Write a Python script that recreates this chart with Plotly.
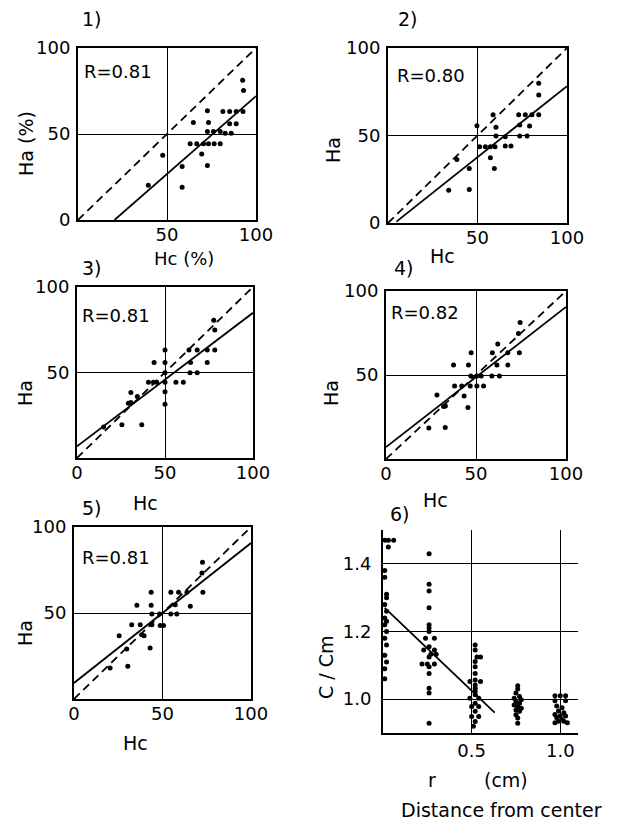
import plotly.graph_objects as go

W, H = 640, 821

# ---------------- data ----------------
p1_hc = [92.5, 93, 72.7, 64.8, 73.3, 81.4, 85.2, 88.9, 92.7, 85.2, 88.9, 72.7, 76.1, 79.9, 82.7, 86.1,
         63, 66.7, 70.5, 73.3, 76.5, 79.9, 47.6, 69.5, 58.5, 72.7, 39.5, 58.5]
p1_ha = [81.2, 75.3, 63.5, 56.7, 56.7, 63.1, 63.1, 63.1, 63.1, 55.9, 55.9, 51.5, 51.5, 51.5, 50.5, 50.5,
         44.3, 44.3, 44.3, 44.3, 44.3, 44.3, 37.7, 38.4, 31.1, 31.7, 20.2, 19.0]
p1_fit_x = [20.5, 100]
p1_fit_y = [0, 72]

p2_hc = [84.2, 84.2, 58.7, 73, 76.7, 80.4, 84.2, 49.7, 60.3, 73.6, 79.1, 60.3, 65.5, 73.6, 77.7,
         51.2, 54.4, 57.2, 59.8, 65.5, 68.7, 57.2, 59.4, 38.5, 45.4, 33.9, 45.4]
p2_ha = [79.9, 73.2, 61.8, 61.8, 61.8, 61.8, 61.8, 55.6, 54.7, 56, 55.4, 49.7, 49.3, 49.7, 49.7,
         43.6, 43.6, 43.6, 43.6, 44, 44, 37.3, 31.2, 36.3, 31.2, 18.7, 19.1]
p2_fit_x = [4.7, 100]
p2_fit_y = [0.8, 78.2]

p3_hc = [77.7, 78.3, 63.6, 68.3, 74, 78.3, 50, 43.8, 50, 64.5, 74, 50, 64.2, 68.3, 40.6, 43.4, 45.3,
         50, 56.2, 60.4, 30.6, 34.3, 29.2, 30.6, 50, 50, 25.5, 36.8, 15.1]
p3_ha = [80.6, 74.8, 63.1, 63.1, 63.1, 63.1, 63.1, 55.9, 55.9, 55.9, 55.9, 49.9, 49.9, 49.9, 44.3, 44.3, 44.3,
         44.3, 44.3, 44.3, 38.3, 35.9, 32, 32.5, 38.8, 31.5, 19.4, 19.4, 18.1]
p3_fit_x = [0, 100]
p3_fit_y = [6.8, 84.9]

p4_hc = [74.5, 73.6, 62.1, 59.1, 67.7, 74.1, 47.3, 37.5, 45.8, 61.6, 67.7, 58.8, 63, 47.1, 50.5, 52.9,
         38.1, 42.1, 46.8, 50.5, 54.2, 28.3, 43.4, 32, 33, 45.5, 23.8, 32.9]
p4_ha = [81.2, 74.7, 68.4, 63.2, 63.2, 63.2, 63.2, 55.9, 55.9, 55.9, 55.9, 49.4, 49.4, 49.4, 49.4, 49.4,
         43.5, 43.5, 43.5, 43.5, 43.5, 38.1, 37.5, 31.2, 31.6, 30.6, 18.4, 18.8]
p4_fit_x = [0, 100]
p4_fit_y = [7.1, 90.5]

p5_hc = [72.6, 72.3, 54.7, 59.1, 63.8, 72.8, 43.6, 35.5, 43.6, 57.2, 65.7, 44, 48.3, 54.7, 58.1,
         32.6, 37.4, 44, 48.7, 50.6, 25.5, 38.3, 39.6, 43, 29.8, 20.4, 30.4]
p5_ha = [79.5, 73.3, 62, 62, 62, 62, 62, 54.5, 54.5, 54.8, 53.9, 49.4, 49.4, 49.4, 49.4,
         43.2, 43.2, 43.2, 42.8, 42.8, 36.8, 37.4, 36.8, 29.7, 29.1, 18, 19]
p5_fit_x = [0, 100]
p5_fit_y = [9.3, 90.7]

diag_x = [0, 100]
diag_y = [0, 100]

p6_r = [0.01, 0.03, 0.06, 0.03, 0.01, 0.01, 0.02, 0.02, 0.01, 0.02, 0.01, 0.02, 0.01, 0.02, 0.01, 0.02, 0.01, 0.02, 0.01, 0.01,
        0.26, 0.26, 0.26, 0.26, 0.26, 0.26, 0.26, 0.24, 0.29, 0.26, 0.23, 0.29, 0.27, 0.30, 0.26, 0.22, 0.25, 0.29, 0.26, 0.26, 0.26, 0.26, 0.26,
        0.52, 0.52, 0.53, 0.55, 0.52, 0.52, 0.52, 0.52, 0.49, 0.55, 0.52, 0.52, 0.52, 0.52, 0.49, 0.54, 0.52, 0.50, 0.54, 0.52, 0.50, 0.54, 0.52, 0.51,
        0.76, 0.76, 0.75, 0.77, 0.74, 0.78, 0.75, 0.77, 0.74, 0.76, 0.78, 0.75, 0.77, 0.75, 0.76, 0.76,
        0.97, 1.00, 1.03, 0.97, 1.03, 0.98, 1.01, 0.99, 1.02, 0.97, 1.00, 1.03, 0.98, 1.01, 0.99, 1.02, 0.97, 1.04]
p6_c = [1.47, 1.47, 1.47, 1.45, 1.38, 1.36, 1.31, 1.30, 1.28, 1.26, 1.24, 1.23, 1.22, 1.20, 1.18, 1.16, 1.13, 1.11, 1.09, 1.06,
        1.43, 1.34, 1.32, 1.27, 1.22, 1.21, 1.20, 1.18, 1.18, 1.155, 1.145, 1.145, 1.133, 1.133, 1.125, 1.104, 1.104, 1.104, 1.096, 1.076, 1.032, 1.018, 0.929,
        1.16, 1.145, 1.125, 1.125, 1.111, 1.096, 1.076, 1.057, 1.052, 1.052, 1.042, 1.032, 1.023, 1.013, 1.003, 1.003, 0.988, 0.978, 0.978, 0.964, 0.949, 0.949, 0.934, 0.92,
        1.04, 1.03, 1.018, 1.008, 1.003, 0.998, 0.993, 0.988, 0.983, 0.978, 0.973, 0.968, 0.964, 0.954, 0.944, 0.929,
        1.01, 1.01, 1.01, 0.995, 0.995, 0.98, 0.975, 0.965, 0.96, 0.955, 0.95, 0.95, 0.945, 0.94, 0.935, 0.935, 0.93, 0.93]
p6_fit_r = [0.01, 0.63]
p6_fit_c = [1.27, 0.96]

r_labels = ["R=0.81", "R=0.80", "R=0.81", "R=0.82", "R=0.81"]
panel_tags = ["1)", "2)", "3)", "4)", "5)", "6)"]

# ---------------- layout helpers ----------------
FONT = "DejaVu Sans"
TICKSIZE = 18

def px_x(v):
    return v / W

def px_y(v):
    return 1 - v / H

# panel boxes in pixels: (left, right, top, bottom)
boxes = [(78, 256, 48, 220), (388, 567, 48, 223), (77, 253, 287, 458),
         (386, 566, 291, 459), (74, 251, 527, 699), (383, 578, 530, 733)]

fig = go.Figure()

scatter_sets = [(p1_hc, p1_ha, p1_fit_x, p1_fit_y), (p2_hc, p2_ha, p2_fit_x, p2_fit_y),
                (p3_hc, p3_ha, p3_fit_x, p3_fit_y), (p4_hc, p4_ha, p4_fit_x, p4_fit_y),
                (p5_hc, p5_ha, p5_fit_x, p5_fit_y)]

layout = dict(width=W, height=H, margin=dict(l=0, r=0, t=0, b=0, pad=0, autoexpand=False),
              paper_bgcolor="white", plot_bgcolor="white", showlegend=False,
              font=dict(family=FONT, color="black", size=TICKSIZE))

for i, (hx, hy, fx, fy) in enumerate(scatter_sets):
    n = i + 1
    xa = "x" if n == 1 else f"x{n}"
    ya = "y" if n == 1 else f"y{n}"
    fig.add_trace(go.Scatter(x=diag_x, y=diag_y, mode="lines", xaxis=xa, yaxis=ya,
                             line=dict(color="black", width=1.8, dash="8px,5px")))
    fig.add_trace(go.Scatter(x=fx, y=fy, mode="lines", xaxis=xa, yaxis=ya,
                             line=dict(color="black", width=1.8)))
    fig.add_trace(go.Scatter(x=hx, y=hy, mode="markers", xaxis=xa, yaxis=ya,
                             marker=dict(color="black", size=5)))
    l, r, t, b = boxes[i]
    if n <= 2:
        xt, yt = [50, 100], [0, 50, 100]
    else:
        xt, yt = [0, 50, 100], [50, 100]
    common = dict(showline=True, mirror=True, linecolor="black", linewidth=2,
                  showgrid=True, gridcolor="black", gridwidth=1.4, zeroline=False,
                  ticks="", range=[0, 100], tickfont=dict(family=FONT, size=TICKSIZE, color="black"),
                  automargin=False)
    layout["xaxis" if n == 1 else f"xaxis{n}"] = dict(domain=[px_x(l), px_x(r)], anchor=ya,
                                                       tickvals=xt, ticktext=[str(v) for v in xt],
                                                       ticklabelstandoff=-3, **common)
    layout["yaxis" if n == 1 else f"yaxis{n}"] = dict(domain=[px_y(b), px_y(t)], anchor=xa,
                                                       tickvals=yt, ticktext=[str(v) for v in yt],
                                                       ticklabelstandoff=2, **common)

# panel 6
fig.add_trace(go.Scatter(x=p6_fit_r, y=p6_fit_c, mode="lines", xaxis="x6", yaxis="y6",
                         line=dict(color="black", width=1.8)))
fig.add_trace(go.Scatter(x=p6_r, y=p6_c, mode="markers", xaxis="x6", yaxis="y6",
                         marker=dict(color="black", size=5)))
l, r, t, b = boxes[5]
layout["xaxis6"] = dict(domain=[px_x(l), px_x(r)], anchor="y6", range=[0, 1.1],
                        showline=True, linecolor="black", linewidth=2, showgrid=True,
                        gridcolor="black", gridwidth=1.4, zeroline=False, ticks="",
                        tickvals=[0.5, 1.0], ticktext=["0.5", "1.0"], automargin=False,
                        tickfont=dict(family=FONT, size=TICKSIZE, color="black"), ticklabelstandoff=0)
layout["yaxis6"] = dict(domain=[px_y(b), px_y(t)], anchor="x6", range=[0.9, 1.5],
                        showline=True, linecolor="black", linewidth=2, showgrid=True,
                        gridcolor="black", gridwidth=1.4, zeroline=False, ticks="",
                        tickvals=[1.0, 1.2, 1.4], ticktext=["1.0", "1.2", "1.4"], automargin=False,
                        tickfont=dict(family=FONT, size=TICKSIZE, color="black"), ticklabelstandoff=6)

fig.update_layout(**layout)

# ---------------- annotations ----------------
def ann(text, x, y, size=19, angle=0, xanchor="center"):
    fig.add_annotation(text=text, x=px_x(x), y=px_y(y), xref="paper", yref="paper",
                       showarrow=False, textangle=angle, xanchor=xanchor, yanchor="middle",
                       font=dict(family=FONT, size=size, color="black"))

tag_pos = [(92, 19), (408, 19), (92, 268), (404, 268), (92, 508), (400, 514)]
for tag, (x, y) in zip(panel_tags, tag_pos):
    ann(tag, x, y, size=19)

r_pos = [(82, 72), (395, 75), (80, 315), (389, 313), (80, 557)]
for lab, (x, y) in zip(r_labels, r_pos):
    ann(lab, x, y, size=18, xanchor="left")

# axis titles
ann("Ha (%)", 26, 144, size=19, angle=-90)
ann("Hc (%)", 184, 258, size=18)
ann("Ha", 333, 150, size=19, angle=-90)
ann("Hc", 442, 256, size=19)
ann("Ha", 25, 393, size=19, angle=-90)
ann("Hc", 145, 503, size=19)
ann("Ha", 331, 393, size=19, angle=-90)
ann("Hc", 435, 500, size=19)
ann("Ha", 25, 633, size=19, angle=-90)
ann("Hc", 135, 743, size=19)
ann("C / Cm", 326, 667, size=19, angle=-90)
ann("r", 432, 780, size=19)
ann("(cm)", 506, 780, size=19)
ann("Distance from center", 501, 810, size=19)

fig.write_html("out.html", config={"displayModeBar": False},
               post_script="document.body.style.margin='0px';document.body.style.overflow='hidden';")
